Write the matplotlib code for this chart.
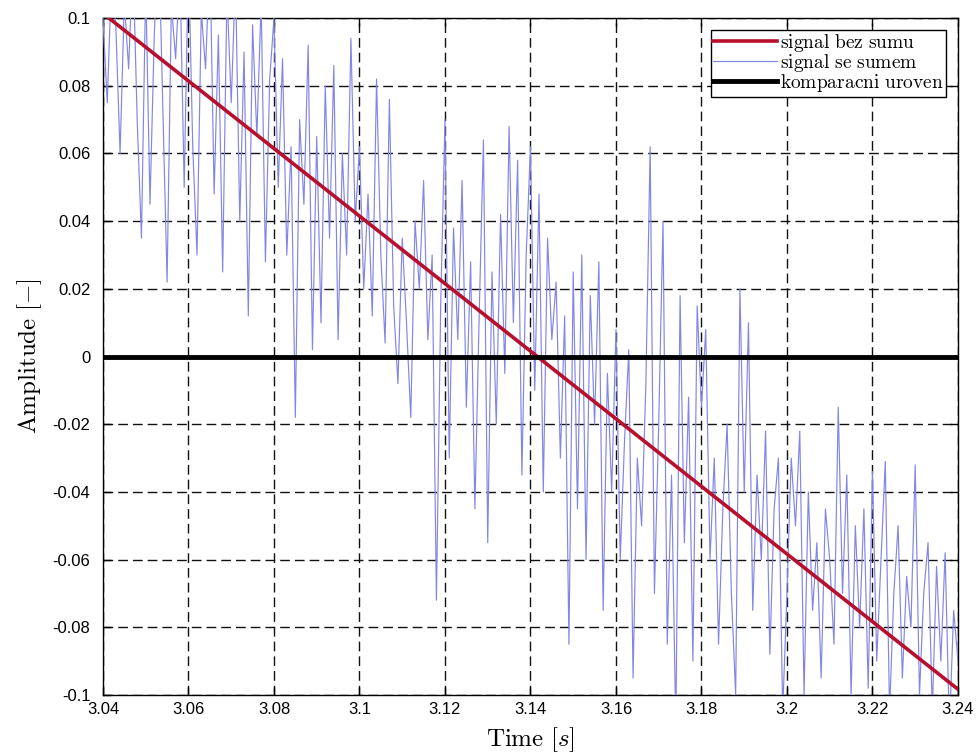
import numpy as np
import matplotlib
matplotlib.use('Agg')
import matplotlib.pyplot as plt

# clean signal (sin around pi), noisy signal, comparison level
t_clean = [3.04, 3.14, 3.24]
y_clean = [0.1014, 0.0016, -0.0983]

y_noisy = [
    0.100, 0.075, 0.112, 0.098, 0.060, 0.105, 0.085, 0.118, 0.070, 0.035,
    0.110, 0.045, 0.095, 0.125, 0.074, 0.022, 0.104, 0.088, 0.115, 0.050,
    0.118, 0.062, 0.030, 0.102, 0.085, 0.120, 0.048, 0.095, 0.025, 0.108,
    0.075, 0.112, 0.040, 0.090, 0.012, 0.098, 0.065, 0.105, 0.028, 0.082,
    0.100, 0.050, 0.088, 0.030, 0.062, -0.018, 0.070, 0.045, 0.092, 0.002,
    0.065, 0.010, 0.080, 0.035, 0.086, 0.005, 0.060, 0.030, 0.094, 0.040,
    0.062, 0.020, 0.048, 0.012, 0.082, 0.030, 0.004, 0.076, 0.015, -0.008,
    0.035, 0.010, -0.018, 0.040, 0.020, 0.052, 0.005, 0.030, -0.072, 0.015,
    0.070, -0.030, 0.038, 0.005, 0.052, -0.015, 0.028, -0.045, 0.012, 0.064,
    -0.055, 0.025, -0.020, 0.042, -0.005, 0.068, 0.010, 0.058, -0.035, 0.030,
    0.062, -0.010, 0.048, -0.040, 0.035, 0.005, 0.022, -0.030, 0.012, -0.085,
    0.025, -0.045, 0.030, -0.060, 0.018, -0.020, 0.028, -0.075, -0.005, -0.040,
    0.008, -0.060, -0.025, 0.002, -0.095, -0.030, -0.050, -0.008, 0.062, -0.070,
    -0.020, 0.040, -0.085, -0.035, -0.110, 0.018, -0.055, -0.012, -0.090, 0.015,
    -0.015, 0.008, -0.060, -0.030, -0.085, -0.045, -0.020, -0.070, -0.100, 0.020,
    -0.040, 0.010, -0.075, -0.035, -0.060, -0.022, -0.088, -0.045, -0.030, -0.105,
    -0.070, -0.030, -0.050, -0.022, -0.100, -0.040, -0.075, -0.055, -0.095, -0.045,
    -0.060, -0.085, -0.015, -0.070, -0.035, -0.100, -0.050, -0.080, -0.045, -0.098,
    -0.034, -0.090, -0.060, -0.031, -0.105, -0.070, -0.050, -0.095, -0.065, -0.080,
    -0.032, -0.100, -0.070, -0.055, -0.105, -0.062, -0.090, -0.058, -0.110, -0.075,
    -0.090,
]
t_noisy = np.linspace(3.04, 3.24, len(y_noisy))

t_level = [3.04, 3.24]
y_level = [0.0, 0.0]

xticks = [3.04, 3.06, 3.08, 3.1, 3.12, 3.14, 3.16, 3.18, 3.2, 3.22, 3.24]
xlabels = ['3.04', '3.06', '3.08', '3.1', '3.12', '3.14', '3.16', '3.18', '3.2', '3.22', '3.24']
yticks = [-0.1, -0.08, -0.06, -0.04, -0.02, 0, 0.02, 0.04, 0.06, 0.08, 0.1]
ylabels = ['-0.1', '-0.08', '-0.06', '-0.04', '-0.02', '0', '0.02', '0.04', '0.06', '0.08', '0.1']

plt.rcParams['mathtext.fontset'] = 'cm'

fig = plt.figure(figsize=(9.77, 7.55), dpi=100)
ax = fig.add_axes([0.1054, 0.0795, 0.8751, 0.8965])

ax.plot(t_clean, y_clean, color='#b8102c', lw=2.6, label=r'$\mathrm{signal\ bez\ sumu}$', zorder=4)
ax.plot(t_noisy, y_noisy, color='#8286e4', lw=0.85, label=r'$\mathrm{signal\ se\ sumem}$', zorder=3)
ax.plot(t_level, y_level, color='black', lw=3.5, label=r'$\mathrm{komparacni\ uroven}$', zorder=5)

ax.set_xlim(3.04, 3.24)
ax.set_ylim(-0.1, 0.1)
ax.set_xticks(xticks)
ax.set_xticklabels(xlabels, family='Liberation Sans', fontsize=12)
ax.set_yticks(yticks)
ax.set_yticklabels(ylabels, family='Liberation Sans', fontsize=12)
ax.tick_params(axis='x', direction='in', length=6, width=1, top=True, pad=5)
ax.tick_params(axis='y', direction='in', length=6, width=1, right=True, pad=9)
ax.grid(True, color='#111111', ls=(0, (7, 3.6)), lw=1.0)
ax.set_axisbelow(True)
for s in ax.spines.values():
    s.set_linewidth(1.0)

ax.set_xlabel(r'$\mathrm{Time}\ [s]$', fontsize=18, labelpad=6)
ax.set_ylabel(r'$\mathrm{Amplitude}\ [-]$', fontsize=18, labelpad=6)

leg = ax.legend(loc='upper right', prop={'size': 14},
                fancybox=False, framealpha=1, edgecolor='black', handlelength=3.3,
                handletextpad=0.15, labelspacing=-0.1, borderpad=0.12,
                borderaxespad=0.6)
leg.get_frame().set_linewidth(1.0)

fig.savefig('out.png', dpi=100)
